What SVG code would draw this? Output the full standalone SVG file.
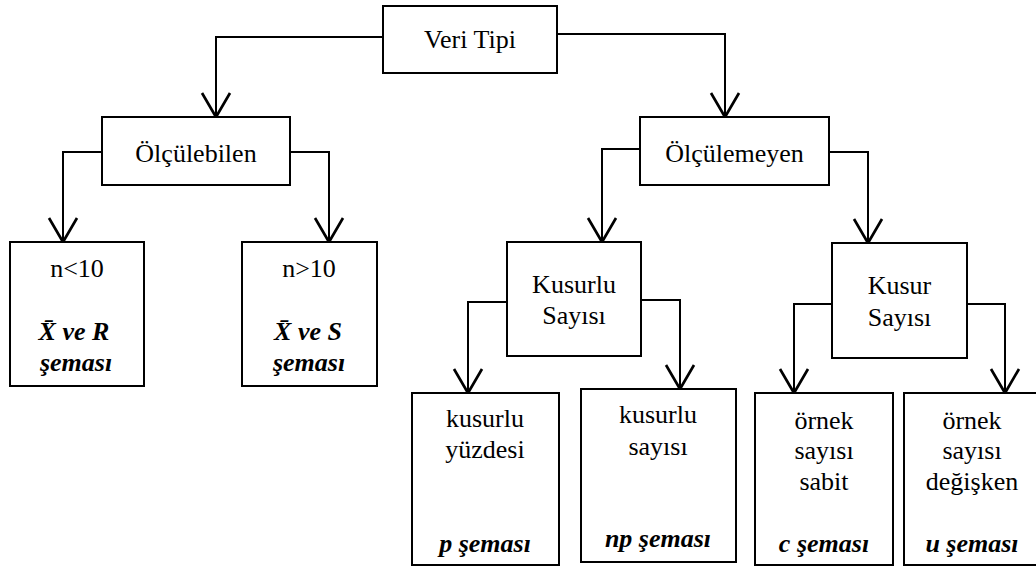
<svg xmlns="http://www.w3.org/2000/svg" width="1036" height="568" viewBox="0 0 1036 568">
<style>
.box{fill:#fff;stroke:#000;stroke-width:2}
text{font-family:'Liberation Serif','Times New Roman',serif;font-size:26px;fill:#000;text-anchor:middle}
.b{font-weight:bold;font-style:italic}
.c{fill:none;stroke:#000;stroke-width:2;marker-end:url(#arr)}
</style>
<defs>
<marker id="arr" markerUnits="userSpaceOnUse" markerWidth="40" markerHeight="40" viewBox="-20 -15 30 30" refX="0" refY="0" orient="auto" overflow="visible">
<path d="M-18,-10.5 L0,0 L-18,10.5" fill="none" stroke="#000" stroke-width="2"/>
</marker>
</defs>
<rect width="1036" height="568" fill="#fff"/>
<g id="connectors">
<path class="c" d="M383,37 H216 V117"/>
<path class="c" d="M557,34 H725 V117"/>
<path class="c" d="M102,152 H63 V242"/>
<path class="c" d="M290,152 H329 V242"/>
<path class="c" d="M640,149 H602 V242"/>
<path class="c" d="M829,152 H868 V243"/>
<path class="c" d="M507,302 H468 V393"/>
<path class="c" d="M641,300 H680 V389"/>
<path class="c" d="M832,304 H794 V393"/>
<path class="c" d="M967,304 H1005 V393"/>
</g>
<g id="veri-tipi">
<rect class="box" x="383" y="6" width="174" height="67"/>
<text x="470" y="48">Veri Tipi</text>
</g>
<g id="olculebilen">
<rect class="box" x="102" y="117" width="188" height="68"/>
<text x="196" y="162">Ölçülebilen</text>
</g>
<g id="olculemeyen">
<rect class="box" x="640" y="117" width="189" height="68"/>
<text x="734.5" y="162">Ölçülemeyen</text>
</g>
<g id="n-kucuk-10">
<rect class="box" x="10" y="242" width="134" height="144"/>
<text x="77" y="277">n&lt;10</text>
<text class="b" x="74" y="340">X̄ ve R</text>
<text class="b" x="76" y="371">şeması</text>
</g>
<g id="n-buyuk-10">
<rect class="box" x="242" y="242" width="135" height="144"/>
<text x="309" y="277">n&gt;10</text>
<text class="b" x="308" y="340">X̄ ve S</text>
<text class="b" x="309" y="371">şeması</text>
</g>
<g id="kusurlu-sayisi">
<rect class="box" x="507" y="242" width="134" height="114"/>
<text x="574" y="293">Kusurlu</text>
<text x="574" y="324">Sayısı</text>
</g>
<g id="kusur-sayisi">
<rect class="box" x="832" y="243" width="135" height="115"/>
<text x="899.5" y="294">Kusur</text>
<text x="899.5" y="326">Sayısı</text>
</g>
<g id="p-semasi">
<rect class="box" x="412" y="393" width="147" height="172"/>
<text x="485" y="427">kusurlu</text>
<text x="485" y="458">yüzdesi</text>
<text class="b" x="485" y="552">p şeması</text>
</g>
<g id="np-semasi">
<rect class="box" x="581" y="389" width="155" height="173"/>
<text x="658" y="423">kusurlu</text>
<text x="658" y="455">sayısı</text>
<text class="b" x="658" y="547">np şeması</text>
</g>
<g id="c-semasi">
<rect class="box" x="755" y="393" width="138" height="172"/>
<text x="824" y="429">örnek</text>
<text x="824" y="459">sayısı</text>
<text x="824" y="490">sabit</text>
<text class="b" x="824" y="552">c şeması</text>
</g>
<g id="u-semasi">
<rect class="box" x="904" y="393" width="136" height="172"/>
<text x="972" y="429">örnek</text>
<text x="972" y="459">sayısı</text>
<text x="972" y="490">değişken</text>
<text class="b" x="972" y="552">u şeması</text>
</g>
</svg>
